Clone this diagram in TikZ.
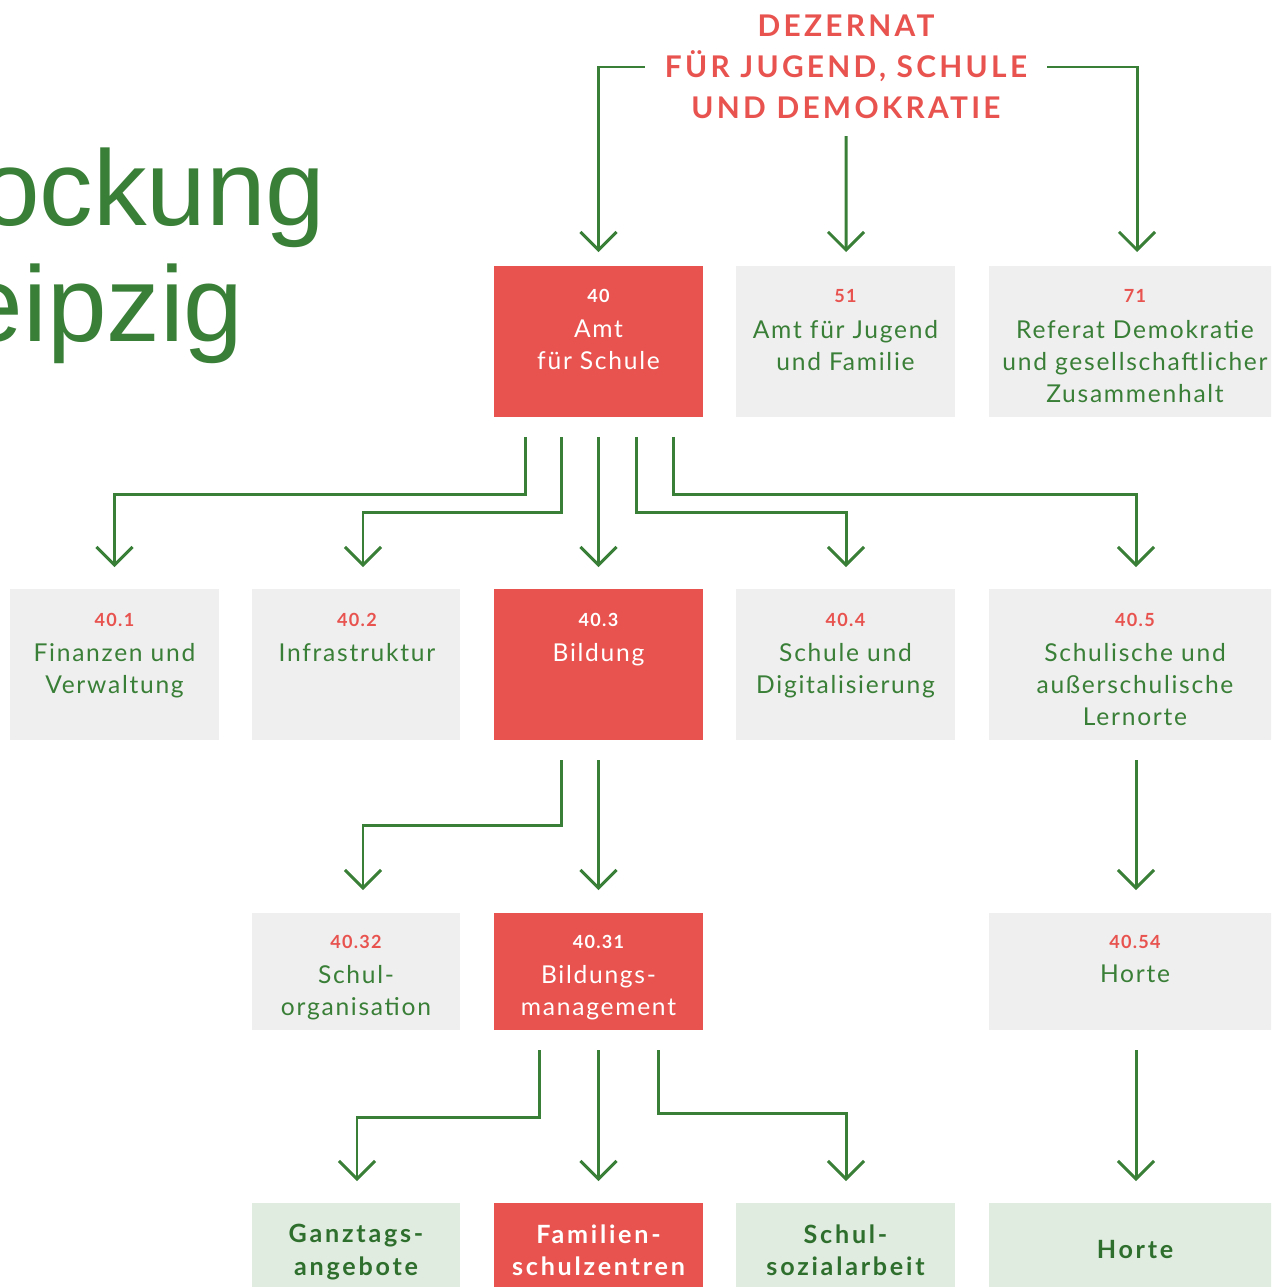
\documentclass[tikz,border=0pt]{standalone}
\usepackage{fontspec}
\setmainfont{Lato}
\newfontfamily\arialfont{Liberation Sans}
\newfontfamily\bodyfont{Lato}[LetterSpace=7]
\newfontfamily\headfont{Lato}[LetterSpace=11]
\usetikzlibrary{arrows.meta,calc}
\definecolor{lgreen}{HTML}{3A7F37}
\definecolor{dgreen}{HTML}{2F6F2E}
\definecolor{lred}{HTML}{E8534F}
\definecolor{lgrey}{HTML}{EFEFEF}
\definecolor{lpale}{HTML}{E0ECDF}
\begin{document}
\begin{tikzpicture}[x=0.02cm,y=-0.02cm,
  boxstyle/.style={draw=none, inner sep=0, outer sep=0},
  greybox/.style={boxstyle, fill=lgrey},
  redbox/.style={boxstyle, fill=lred},
  palebox/.style={boxstyle, fill=lpale},
  row1/.style={minimum height=3.02cm},
  row3/.style={minimum height=2.34cm},
  row4/.style={minimum height=1.84cm},
  numtxt/.style={font=\bodyfont\fontsize{10.3}{12}\selectfont\bfseries, text=lred, inner sep=0},
  numwhite/.style={numtxt, text=white},
  bodytxt/.style={font=\bodyfont\fontsize{14}{18.14}\selectfont, text=lgreen, align=center, inner sep=0, anchor=north},
  bodywhite/.style={bodytxt, text=white},
  boldtxt/.style={font=\headfont\fontsize{14.3}{18.7}\selectfont\bfseries, text=dgreen, align=center, inner sep=0, anchor=north},
  boldwhite/.style={boldtxt, text=white},
  arr/.style={draw=lgreen, line width=1.7pt, -{Straight Barb[length=0.36cm, width=0.72cm]}},
  bigtitle/.style={font=\arialfont\fontsize{61}{70}\selectfont, text=lgreen, inner sep=0, anchor=base east}
]
\useasboundingbox (0,0) rectangle (1271,1287);
\clip (0,0) rectangle (1271,1287);

% big title fragment
\node[bigtitle] (tA) at (326,226) {ockung};
\node[bigtitle] (tB) at (244,341) {eipzig};

% Dezernat
\node[font=\headfont\fontsize{17}{23.2}\selectfont\bfseries, text=lred, align=center, inner xsep=0.4cm, inner ysep=0] (dez) at (846,67) {DEZERNAT\\FÜR JUGEND, SCHULE\\UND DEMOKRATIE};

% row 1
\node[redbox, row1, minimum width=4.18cm] (b40) at (598.5,341.5) {};
\node[greybox, row1, minimum width=4.38cm] (b51) at (845.5,341.5) {};
\node[greybox, row1, minimum width=5.84cm] (b71) at (1135,341.5) {};
\node[numwhite] (n40) at (598.5,296) {40};
\node[bodywhite] (t40) at (598.5,320) {Amt\\für Schule};
\node[numtxt] (n51) at (845.5,296) {51};
\node[bodytxt] (t51) at (845.5,320) {Amt für Jugend\\und Familie};
\node[numtxt] (n71) at (1135,296) {71};
\node[bodytxt] (t71) at (1135,320) {Referat Demokratie\\und gesellschaftlicher\\Zusammenhalt};

% row 2
\node[greybox, row1, minimum width=4.18cm] (b401) at (114.5,664.5) {};
\node[greybox, row1, minimum width=4.16cm] (b402) at (356,664.5) {};
\node[redbox, row1, minimum width=4.18cm] (b403) at (598.5,664.5) {};
\node[greybox, row1, minimum width=4.38cm] (b404) at (845.5,664.5) {};
\node[greybox, row1, minimum width=5.84cm] (b405) at (1135,664.5) {};
\node[numtxt] (n401) at (114.5,620) {40.1};
\node[bodytxt] (t401) at (114.5,643) {Finanzen und\\Verwaltung};
\node[numtxt] (n402) at (357,620) {40.2};
\node[bodytxt] (t402) at (357,643) {Infrastruktur};
\node[numwhite] (n403) at (598.5,620) {40.3};
\node[bodywhite] (t403) at (598.5,643) {Bildung};
\node[numtxt] (n404) at (845.5,620) {40.4};
\node[bodytxt] (t404) at (845.5,643) {Schule und\\Digitalisierung};
\node[numtxt] (n405) at (1135,620) {40.5};
\node[bodytxt] (t405) at (1135,643) {Schulische und\\außerschulische\\Lernorte};

% row 3
\node[greybox, row3, minimum width=4.16cm] (b4032) at (356,971.5) {};
\node[redbox, row3, minimum width=4.18cm] (b4031) at (598.5,971.5) {};
\node[greybox, row3, minimum width=5.84cm] (b4054) at (1135,971.5) {};
\node[numtxt] (n4032) at (356,942) {40.32};
\node[bodytxt] (t4032) at (356,965) {Schul-\\organisation};
\node[numwhite] (n4031) at (598.5,942) {40.31};
\node[bodywhite] (t4031) at (598.5,965) {Bildungs-\\management};
\node[numtxt] (n4054) at (1135,942) {40.54};
\node[bodytxt] (t4054) at (1135,965) {Horte};

% row 4
\node[palebox, row4, minimum width=4.16cm] (bga) at (356,1249) {};
\node[redbox, row4, minimum width=4.18cm] (bfa) at (598.5,1249) {};
\node[palebox, row4, minimum width=4.38cm] (bss) at (845.5,1249) {};
\node[palebox, row4, minimum width=5.84cm] (bho) at (1135,1249) {};
\node[boldtxt] (tga) at (356,1224) {Ganztags-\\angebote};
\node[boldwhite] (tfa) at (598.5,1224) {Familien-\\schulzentren};
\node[boldtxt] (tss) at (845.5,1224) {Schul-\\sozialarbeit};
\node[boldtxt] (tho) at (1135,1240) {Horte};

% connectors from Dezernat
\draw[arr] (dez.west) -| ([shift={(0,-14)}]b40.north);
\draw[arr] ([shift={(0,17)}]dez.south) -- ([shift={(0.5,-14)}]b51.north);
\draw[arr] (dez.east) -| ([shift={(2,-14)}]b71.north);

% from 40
\draw[arr] ([shift={(-73.5,20)}]b40.south) |- ([shift={(0,-95)}]b401.north) -- ([shift={(0,-22)}]b401.north);
\draw[arr] ([shift={(-37.5,20)}]b40.south) |- ([shift={(7,-77)}]b402.north) -- ([shift={(7,-22)}]b402.north);
\draw[arr] ([shift={(0,20)}]b40.south) -- ([shift={(0,-22)}]b403.north);
\draw[arr] ([shift={(37.5,20)}]b40.south) |- ([shift={(0.5,-77)}]b404.north) -- ([shift={(0.5,-22)}]b404.north);
\draw[arr] ([shift={(74.5,20)}]b40.south) |- ([shift={(1,-95)}]b405.north) -- ([shift={(1,-22)}]b405.north);

% from 40.3 and 40.5
\draw[arr] ([shift={(-37.5,20)}]b403.south) |- ([shift={(7,-88)}]b4032.north) -- ([shift={(7,-23)}]b4032.north);
\draw[arr] ([shift={(0,20)}]b403.south) -- ([shift={(0,-23)}]b4031.north);
\draw[arr] ([shift={(1,20)}]b405.south) -- ([shift={(1,-23)}]b4054.north);

% from 40.31 and 40.54
\draw[arr] ([shift={(-59.5,20)}]b4031.south) |- ([shift={(1,-86)}]bga.north) -- ([shift={(1,-22)}]bga.north);
\draw[arr] ([shift={(0,20)}]b4031.south) -- ([shift={(0,-22)}]bfa.north);
\draw[arr] ([shift={(59.5,20)}]b4031.south) |- ([shift={(0.5,-90)}]bss.north) -- ([shift={(0.5,-22)}]bss.north);
\draw[arr] ([shift={(1,20)}]b4054.south) -- ([shift={(1,-22)}]bho.north);
\end{tikzpicture}
\end{document}
